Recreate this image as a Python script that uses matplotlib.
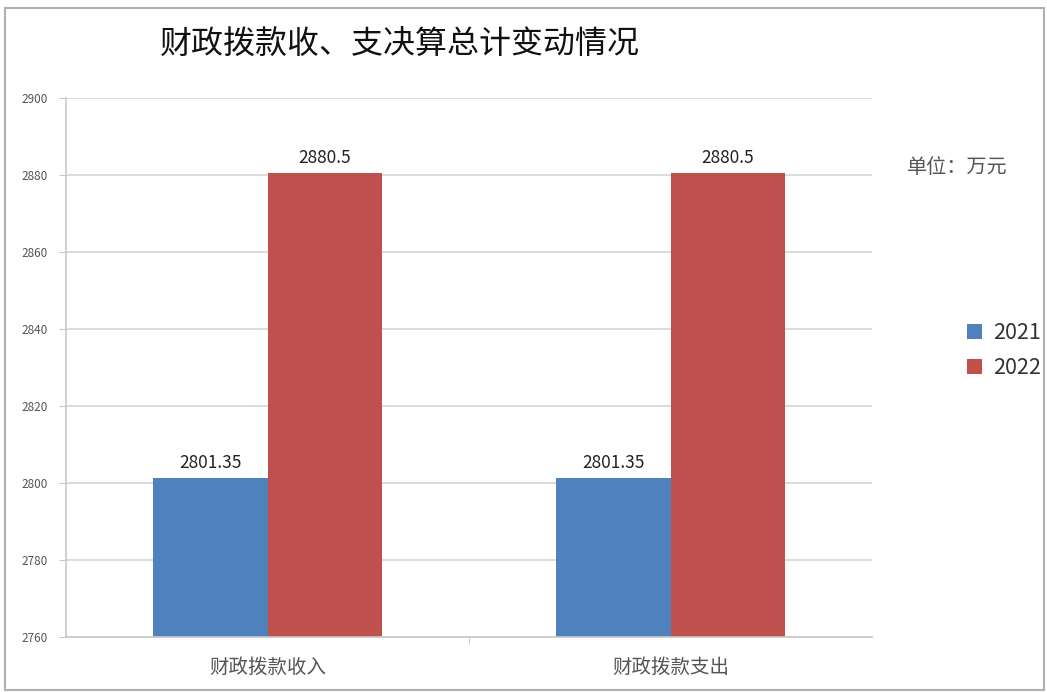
import matplotlib.pyplot as plt
import numpy as np
from matplotlib.patches import Rectangle

plt.rcParams['font.family'] = ['Noto Sans CJK SC', 'DejaVu Sans']

categories = ['财政拨款收入', '财政拨款支出']
years = ['2021', '2022']
values_2021 = [2801.35, 2801.35]
values_2022 = [2880.5, 2880.5]
value_labels_2021 = ['2801.35', '2801.35']
value_labels_2022 = ['2880.5', '2880.5']
yticks = [2760, 2780, 2800, 2820, 2840, 2860, 2880, 2900]

blue = '#4f81bd'
red = '#c0504d'

fig = plt.figure(figsize=(10.47, 6.92), dpi=100)
fig.patches.append(Rectangle((0.005, 0.003), 0.992, 0.986, transform=fig.transFigure,
                             fill=False, edgecolor='#b0b0b0', linewidth=1.5))

ax = fig.add_axes([0.063, 0.0795, 0.770, 0.7785])
x = np.arange(len(categories))
w = 0.285
b1 = ax.bar(x - w / 2, np.array(values_2021) - 2760, w, bottom=2760, color=blue, label=years[0])
b2 = ax.bar(x + w / 2, np.array(values_2022) - 2760, w, bottom=2760, color=red, label=years[1])

for bars, labels in ((b1, value_labels_2021), (b2, value_labels_2022)):
    for bar, lab in zip(bars, labels):
        ax.text(bar.get_x() + bar.get_width() / 2, bar.get_y() + bar.get_height() + 1.6, lab,
                ha='center', va='bottom', fontsize=12.5, color='#222222')

ax.set_ylim(2760, 2900)
ax.set_xlim(-0.5, 1.5)
ax.set_yticks(yticks)
ax.set_yticklabels([str(t) for t in yticks], fontsize=8.5, color='#555555')
ax.yaxis.grid(True, color='#d4d4d4', linewidth=1.2)
ax.set_axisbelow(True)
ax.tick_params(axis='y', length=5, color='#c8c8c8', pad=8)

ax.set_xticks([0.5], minor=True)
ax.set_xticks(x)
ax.set_xticklabels(categories, fontsize=14, color='#555555')
ax.tick_params(axis='x', which='major', length=0, pad=14)
ax.tick_params(axis='x', which='minor', length=5, color='#c8c8c8')

for s in ('top', 'right'):
    ax.spines[s].set_visible(False)
for s in ('left', 'bottom'):
    ax.spines[s].set_color('#c8c8c8')
    ax.spines[s].set_linewidth(1.2)

fig.text(0.382, 0.935, '财政拨款收、支决算总计变动情况', ha='center', va='center',
         fontsize=23, fontweight='medium', color='#111111')
fig.text(0.914, 0.758, '单位：万元', ha='center', va='center', fontsize=14.5, color='#555555')

fig.legend(handles=[b1, b2], labels=years, loc='center left', bbox_to_anchor=(0.905, 0.493),
           frameon=False, fontsize=15.5, handlelength=0.7, handleheight=0.7,
           handletextpad=0.5, labelspacing=0.6, labelcolor='#333333')

plt.savefig('out.png', dpi=100)
